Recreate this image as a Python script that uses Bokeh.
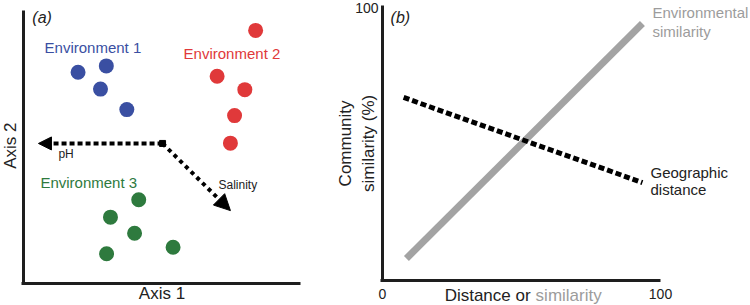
import math
from bokeh.plotting import figure
from bokeh.layouts import row
from bokeh.models import Label, Arrow, NormalHead, FixedTicker, Range1d
from bokeh.embed import file_html
from bokeh.resources import INLINE

FONT = "Liberation Sans"

# ---------------- Panel (a): ordination ----------------
env1_x = [19.7, 29.9, 27.8, 37.3]
env1_y = [77.4, 79.7, 71.2, 63.7]
env2_x = [83.8, 69.9, 79.9, 76.2, 74.7]
env2_y = [92.7, 75.9, 71.0, 61.5, 51.4]
env3_x = [41.6, 31.4, 40.1, 30.0, 54.0]
env3_y = [30.7, 24.3, 18.4, 10.9, 13.3]
env_names = ["Environment 1", "Environment 2", "Environment 3"]
env_colors = ["#3a4fa2", "#e0393a", "#2e7a3e"]

vector_origin = (50.2, 51.3)
ph_end = (5.4, 51.3)
salinity_end = (74.7, 26.7)

# ---------------- Panel (b): similarity lines ----------------
env_sim_x = [8.6, 93.5]
env_sim_y = [8.1, 94.5]
geo_x = [7.6, 93.5]
geo_y = [67.3, 36.0]
xticks_b = [0, 100]
yticks_b = [100]

GREY = "#9c9c9c"
AXIS = "#1e1e1e"
TXT = "#222222"


def style_axes(p, xbounds, ybounds):
    p.xgrid.visible = False
    p.ygrid.visible = False
    p.outline_line_color = None
    for ax, b in ((p.xaxis, xbounds), (p.yaxis, ybounds)):
        ax.fixed_location = 0
        ax.bounds = b
        ax.ticker = FixedTicker(ticks=[])
        ax.axis_line_width = 3
        ax.axis_line_color = AXIS
        ax.major_tick_line_color = None
        ax.minor_tick_line_color = None
        ax.major_tick_out = 0
        ax.minor_tick_out = 0
        ax.major_label_standoff = 0
        ax.axis_label_standoff = 0


def label(p, x, y, text, size="15px", color=TXT, align="left", style="normal",
          baseline="middle", x_offset=0, angle=0):
    p.add_layout(Label(x=x, y=y, text=text, text_font=FONT, text_font_size=size,
                       text_color=color, text_align=align, text_font_style=style,
                       text_baseline=baseline, x_offset=x_offset, angle=angle))


pa = figure(width=320, height=305, x_range=Range1d(-8.30, 107.22), y_range=Range1d(-8.06, 103.66),
            output_backend="svg", toolbar_location=None,
            min_border_left=0, min_border_right=0, min_border_top=0, min_border_bottom=0)
style_axes(pa, (-0.55, 100), (-0.55, 100))

for xs, ys, c in zip([env1_x, env2_x, env3_x], [env1_y, env2_y, env3_y], env_colors):
    pa.scatter(xs, ys, size=15, color=c, line_color=None)

for name, c, (lx, ly) in zip(env_names, env_colors, [(7.6, 86.4), (57.8, 84.2), (6.1, 37.0)]):
    label(pa, lx, ly, name, color=c)

pa.add_layout(Arrow(end=NormalHead(size=13, fill_color="black", line_color="black"),
                    x_start=vector_origin[0], y_start=vector_origin[1],
                    x_end=ph_end[0], y_end=ph_end[1],
                    line_width=4, line_dash="5 3", line_color="black"))
pa.add_layout(Arrow(end=NormalHead(size=16, fill_color="black", line_color="black"),
                    x_start=vector_origin[0], y_start=vector_origin[1],
                    x_end=salinity_end[0], y_end=salinity_end[1],
                    line_width=4, line_dash="4 4", line_color="black"))
pa.scatter([vector_origin[0]], [vector_origin[1]], marker="square", size=6, color="black")
label(pa, 12.6, 47.3, "pH", size="12px")
label(pa, 70.4, 35.9, "Salinity", size="12px")
label(pa, 3.2, 97.4, "(a)", size="16px", style="italic")
label(pa, 50, -3.66, "Axis 1", size="17px", align="center")
label(pa, -4.7, 50.5, "Axis 2", size="17px", align="center", angle=math.pi / 2)

# ---------------- Panel (b) ----------------
pb = figure(width=430, height=305, x_range=Range1d(-22.30, 132.37), y_range=Range1d(-9.19, 102.94),
            output_backend="svg", toolbar_location=None,
            min_border_left=0, min_border_right=0, min_border_top=0, min_border_bottom=0)
style_axes(pb, (-0.54, 100), (-0.55, 101.1))

pb.line(env_sim_x, env_sim_y, line_width=7, line_color="#a3a3a3")
pb.line(geo_x, geo_y, line_width=5, line_color="black", line_dash="6 3")

for t in xticks_b:
    label(pb, t, -4.8, str(t), size="14px", align="center")
for t in yticks_b:
    label(pb, -1.4, t, str(t), size="14px", align="right")
label(pb, -13.3, 50.4, "Community", size="17px", align="center", angle=math.pi / 2)
label(pb, -5.0, 50.4, "similarity (%)", size="17px", align="center", angle=math.pi / 2)
label(pb, 54.0, -5.5, "Distance or", size="17px", align="right", x_offset=-2)
label(pb, 54.0, -5.5, "similarity", size="17px", color=GREY, x_offset=3)
label(pb, 2.9, 96.7, "(b)", size="16px", style="italic")
label(pb, 97.1, 98.5, "Environmental", color=GREY)
label(pb, 97.1, 91.5, "similarity", color=GREY)
label(pb, 96.4, 39.7, "Geographic")
label(pb, 96.4, 33.5, "distance")

layout = row(pa, pb)
open("out.html", "w").write(file_html(layout, INLINE))
